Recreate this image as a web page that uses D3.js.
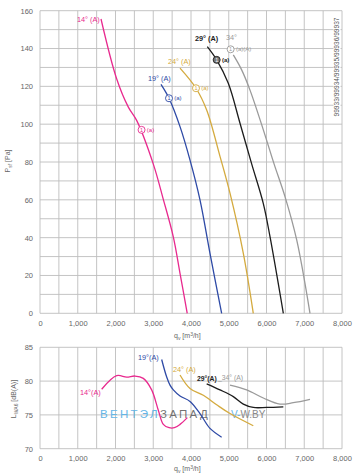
<!DOCTYPE html>
<html><head><meta charset="utf-8">
<script src="https://cdn.jsdelivr.net/npm/d3@7"></script>
<style>body{margin:0;background:#fff}svg{display:block;font-family:"Liberation Sans",Arial,sans-serif}</style>
</head><body><svg id="c" width="359" height="476"></svg>
<script>
// ---- data ----
const flowTicks = [0,1000,2000,3000,4000,5000,6000,7000,8000];
const pTicks = [0,20,40,60,80,100,120,140,160];
const dbTicks = [70,75,80,85];
const seriesNames = ["14° (A)","19° (A)","24° (A)","29° (A)","34°"];
const seriesColors = ["#e8298e","#2e4aa6","#d4aa3e","#1c1c1c","#9a9a9a"];

const p14q = [1616,2030,2340,2560,3000,3270,3530,3710,3900];
const p14v = [155.6,124,109,102,79,60,40.5,21,0];
const p19q = [3205,3417,3709,3974,4238,4503,4812];
const p19v = [121,113.7,98.7,81,60,31.7,0];
const p24q = [3709,4132,4415,4768,5033,5386,5650];
const p24v = [129.6,119,107.5,83,63.5,31.7,0];
const p29q = [4432,4680,4988,5298,5607,5916,6093,6446];
const p29v = [141,134,121.6,100.5,79,58,40.5,0];
const p34q = [5121,5342,5563,5916,6200,6490,6800,7152];
const p34v = [136.6,128.7,118,97,79,61.7,38.8,0];

const n14q = [1634,2031,2296,2517,2737,2958,3134,3267,3420,3560,3709,3903];
const n14v = [78.8,80.8,80.6,80.75,80.4,78.7,75.7,73.6,73.1,73.1,73.6,74.6];
const n19q = [3223,3356,3444,3532,3709,3974,4238,4503,4812];
const n19v = [83.2,80.6,79.4,78.7,77.8,77.0,75.2,73.0,71.7];
const n24q = [3709,3974,4326,4680,5033,5650];
const n24v = [80.9,78.9,77.9,76.5,75.2,73.4];
const n29q = [4415,4768,5121,5386,5650,6004,6446];
const n29v = [79.6,78.7,77.7,76.6,76.1,76.1,76.2];
const n34q = [5033,5474,5916,6357,6710,7152];
const n34v = [79.4,78.7,77.5,76.6,76.8,77.3];

// marker points (operating point "1")
const markQ = [2690,3417,4132,4680,5050];
const markP = [97,113.7,119,134,139.6];
const markTxt = ["(a)","(a)","(a)","(a)","(a)(A)"];

const pQ=[p14q,p19q,p24q,p29q,p34q], pV=[p14v,p19v,p24v,p29v,p34v];
const nQ=[n14q,n19q,n24q,n29q,n34q], nV=[n14v,n19v,n24v,n29v,n34v];

// ---- scales ----
const svg = d3.select("#c");
svg.append("rect").attr("width",359).attr("height",476).attr("fill","#fff");
const x = d3.scaleLinear().domain([0,8000]).range([40,342]);
const yP = d3.scaleLinear().domain([0,160]).range([313.3,10.7]);
const yN = d3.scaleLinear().domain([70,85]).range([448.7,347.3]);
const fmt = d3.format(",");
const grid = "#bdbdbd", tc = "#666";

function panel(y, yTicks, hStep, yMin, yMax){
  const g = svg.append("g");
  const vx = d3.range(0,8001,500);
  g.selectAll("line.v").data(vx).join("line")
    .attr("x1",d=>x(d)).attr("x2",d=>x(d)).attr("y1",y(yMax)).attr("y2",y(yMin))
    .attr("stroke",grid).attr("stroke-width",0.9);
  const hy = d3.range(yMin,yMax+0.001,hStep);
  g.selectAll("line.h").data(hy).join("line")
    .attr("x1",x(0)).attr("x2",x(8000)).attr("y1",d=>y(d)).attr("y2",d=>y(d))
    .attr("stroke",grid).attr("stroke-width",0.9);
  const ya = d3.axisLeft(y).tickValues(yTicks).tickSize(0).tickPadding(7);
  const ga = g.append("g").attr("transform",`translate(${x(0)},0)`).call(ya);
  ga.select(".domain").remove();
  ga.selectAll("text").attr("fill",tc).style("font-size","7.5px");
  const xa = d3.axisBottom(x).tickValues(flowTicks).tickFormat(fmt).tickSize(0).tickPadding(7);
  const gx = g.append("g").attr("transform",`translate(0,${y(yMin)})`).call(xa);
  gx.select(".domain").remove();
  gx.selectAll("text").attr("fill",tc).style("font-size","7.5px");
}
panel(yP,pTicks,10,0,160);
panel(yN,dbTicks,5,70,85);

// watermark
const wm = svg.append("text").attr("x",100).attr("y",418).style("font-size","11.5px").style("letter-spacing","2.3px");
wm.append("tspan").attr("fill","#64b5e6").text("ВЕНТЭЛ");
wm.append("tspan").attr("fill","#5a5a5a").attr("fill-opacity",0.85).text("ЗАПАД");
const wm2 = svg.append("text").attr("x",231).attr("y",418).style("font-size","10px");
wm2.append("tspan").attr("fill","#64b5e6").text("V-");
wm2.append("tspan").attr("fill","#8a8a8a").text("W.BY");

// curves
const line = (y)=>d3.line().x(d=>x(d[0])).y(d=>y(d[1])).curve(d3.curveCatmullRom.alpha(0.5));
pQ.forEach((q,i)=>{
  svg.append("path").datum(q.map((v,j)=>[v,pV[i][j]]))
    .attr("d",line(yP)).attr("fill","none").attr("stroke",seriesColors[i]).attr("stroke-width",1.3);
});
nQ.forEach((q,i)=>{
  svg.append("path").datum(q.map((v,j)=>[v,nV[i][j]]))
    .attr("d",line(yN)).attr("fill","none").attr("stroke",seriesColors[i]).attr("stroke-width",1.3);
});

// markers
markQ.forEach((q,i)=>{
  const cx = x(q), cy = yP(markP[i]);
  const dark = i===3;
  svg.append("circle").attr("cx",cx).attr("cy",cy).attr("r",3.5)
    .attr("fill",dark?"#777":"#fff").attr("stroke",seriesColors[i]).attr("stroke-width",0.9);
  svg.append("text").attr("x",cx).attr("y",cy+2).attr("text-anchor","middle")
    .style("font-size","5.5px").attr("fill",dark?"#fff":seriesColors[i]).text("1");
  svg.append("text").attr("x",cx+5.3).attr("y",cy+2.2)
    .style("font-size","6px").attr("fill",seriesColors[i]).style("font-weight",dark?"bold":"normal").text(markTxt[i]);
});

// series labels top
const topLab = [[77,22],[148,81],[168,64],[195,41],[226,40]];
topLab.forEach((p,i)=>{
  svg.append("text").attr("x",p[0]).attr("y",p[1]).style("font-size","7.3px")
    .attr("fill",seriesColors[i]).style("font-weight",i===3?"bold":"normal").text(seriesNames[i]);
});
// series labels bottom
const botNames = ["14°(A)","19°(A)","24° (A)","29°(A)","_34° (A)"];
const botLab = [[80,395],[138,360],[173,372],[197,381],[218,380]];
botLab.forEach((p,i)=>{
  svg.append("text").attr("x",p[0]).attr("y",p[1]).style("font-size",i>=3?"6.8px":"7.3px")
    .attr("fill",seriesColors[i]).style("font-weight",i===3?"bold":"normal").text(botNames[i]);
});

// axis titles
function qLabel(yy){
  const t = svg.append("text").attr("x",174).attr("y",yy).style("font-size","7px").attr("fill",tc);
  t.append("tspan").text("q");
  t.append("tspan").attr("dy",1.5).style("font-size","5px").text("v");
  t.append("tspan").attr("dy",-1.5).text(" [m");
  t.append("tspan").attr("dy",-2.5).style("font-size","5px").text("3");
  t.append("tspan").attr("dy",2.5).text("/h]");
}
qLabel(338); qLabel(471);

const pl = svg.append("text").attr("transform","translate(10,161) rotate(-90)").attr("text-anchor","middle")
  .style("font-size","7px").attr("fill",tc);
pl.append("tspan").text("P");
pl.append("tspan").attr("dy",1.5).style("font-size","5px").text("sf");
pl.append("tspan").attr("dy",-1.5).text(" [Pa]");

const nl = svg.append("text").attr("transform","translate(16,399) rotate(-90)").attr("text-anchor","middle")
  .style("font-size","7px").attr("fill",tc);
nl.append("tspan").text("L");
nl.append("tspan").attr("dy",1.5).style("font-size","5px").text("WA6");
nl.append("tspan").attr("dy",-1.5).text(" [dB(A)]");

// right vertical code text
svg.append("rect").attr("x",333.5).attr("y",13).attr("width",7).attr("height",108).attr("fill","#fff");
svg.append("text").attr("transform","translate(339,67) rotate(-90)").attr("text-anchor","middle")
  .style("font-size","6.6px").attr("fill","#555").text("99933/99934/99935/99936/99937");
</script></body></html>
